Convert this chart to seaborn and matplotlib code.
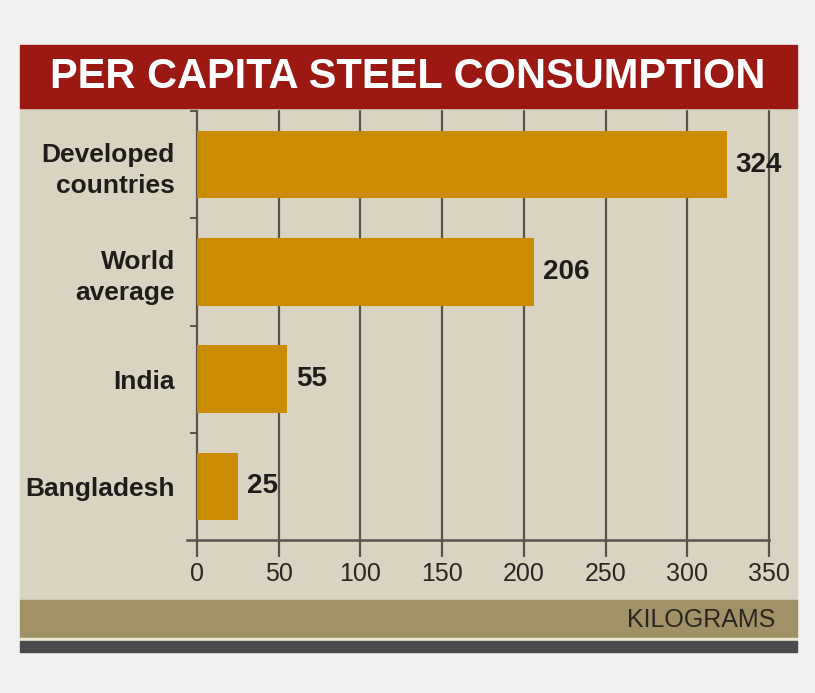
import matplotlib
matplotlib.use("Agg")
import matplotlib.pyplot as plt
import seaborn as sns
import pandas as pd
from matplotlib.patches import Rectangle

# data
countries = ["Developed\ncountries", "World\naverage", "India", "Bangladesh"]
steel_kg = [324, 206, 55, 25]
x_ticks = [0, 50, 100, 150, 200, 250, 300, 350]

df = pd.DataFrame({"country": countries, "kg": steel_kg})

sns.set_style("white")
plt.rcParams["font.family"] = ["Liberation Sans", "DejaVu Sans"]

W, H = 815, 693
fig = plt.figure(figsize=(8.15, 6.93), dpi=100)
fig.patch.set_facecolor("#f1f1f0")

def band(x0, y0, x1, y1, color):
    # pixel coords from top-left
    fig.patches.append(Rectangle((x0 / W, 1 - y1 / H), (x1 - x0) / W, (y1 - y0) / H,
                                 transform=fig.transFigure, color=color, zorder=-5))

band(20, 108, 797, 600, "#d9d4c1")
band(20, 45, 797, 108, "#9c1812")
band(20, 600, 797, 638, "#a19167")
band(20, 638, 797, 641, "#efe9d4")
band(20, 641, 797, 652, "#4b4b4d")

fig.text(408 / W, 1 - 77 / H, "PER CAPITA STEEL CONSUMPTION", color="white",
         fontsize=30, ha="center", va="center", fontweight="bold")
fig.text(775 / W, 1 - 620 / H, "KILOGRAMS", color="#2a2622", fontsize=18,
         ha="right", va="center")

ax = fig.add_axes([197 / W, 1 - 540 / H, 572 / W, 429 / H])
ax.set_facecolor("none")

sns.barplot(data=df, x="kg", y="country", orient="h", color="#cb8b02",
            width=0.63, saturation=1, linewidth=0, ax=ax, zorder=3)

ax.set_xlim(0, 350)
ax.set_ylim(3.5, -0.5)
ax.set_xticks(x_ticks)
ax.set_xticklabels([str(t) for t in x_ticks], fontsize=18, color="#2a2622")
for t in x_ticks[1:]:
    ax.axvline(t, color="#58544d", lw=1.6, zorder=1, clip_on=False)

ax.set_yticks([0, 1, 2, 3])
ax.set_yticklabels(countries, fontsize=19, fontweight="bold", color="#1f1c1a",
                   ha="right", linespacing=1.35)
ax.set_yticks([-0.5, 0.5, 1.5, 2.5], minor=True)
ax.tick_params(axis="y", which="major", left=False, length=0, pad=16)
ax.tick_params(axis="y", which="minor", left=True, length=5, color="#58544d",
               width=1.4, direction="out")
ax.tick_params(axis="x", bottom=True, length=12, width=1.6, color="#58544d",
               pad=4, direction="out")
ax.set_xlabel("")
ax.set_ylabel("")

for s in ["top", "right"]:
    ax.spines[s].set_visible(False)
ax.spines["left"].set_color("#58544d")
ax.spines["left"].set_linewidth(1.6)
ax.spines["bottom"].set_color("#58544d")
ax.spines["bottom"].set_linewidth(1.8)
ax.spines["bottom"].set_bounds(-6, 350)
ax.spines["bottom"].set_clip_on(False)

for i, v in enumerate(steel_kg):
    ax.text(v + 5.5, i, str(v), va="center", ha="left", fontsize=20,
            fontweight="bold", color="#1f1c1a", zorder=4)

fig.savefig("out.png", dpi=100, facecolor=fig.get_facecolor())
